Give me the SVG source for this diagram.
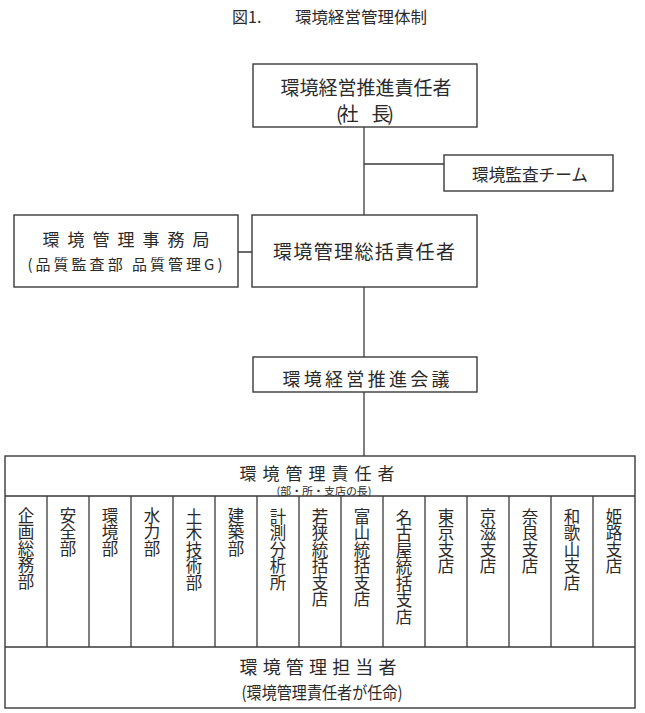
<svg xmlns="http://www.w3.org/2000/svg" width="645" height="713" viewBox="0 0 645 713">
<style>
text{font-family:"Noto Sans CJK JP","Noto Sans CJK SC",sans-serif;fill:#2a2a2a;dominant-baseline:central}
.c{text-anchor:middle}
.box{fill:#fff;stroke:#3a3a3a;stroke-width:1.4}
.ln{fill:none;stroke:#3a3a3a;stroke-width:1.3}
.v{writing-mode:vertical-rl;font-size:16.5px;dominant-baseline:auto}
</style>
<rect width="645" height="713" fill="#fff"/>
<g id="title">
<text x="232" y="15.5" font-size="16">図1.</text>
<text x="295" y="15.5" font-size="16" textLength="132" lengthAdjust="spacingAndGlyphs">環境経営管理体制</text>
</g>
<g id="connectors">
<path class="ln" d="M364 127V215M364 287V357M364 392V456M364 164H444M238 252H252"/>
</g>
<g id="president">
<rect class="box" x="253" y="64" width="224" height="63"/>
<text class="c" x="366" y="86" font-size="19" textLength="171" lengthAdjust="spacingAndGlyphs">環境経営推進責任者</text>
<text class="c" x="365" y="112" font-size="19" textLength="58" lengthAdjust="spacing">(社　長)</text>
</g>
<g id="audit">
<rect class="box" x="444" y="155" width="169" height="36"/>
<text class="c" x="530" y="173" font-size="17" textLength="116" lengthAdjust="spacingAndGlyphs">環境監査チーム</text>
</g>
<g id="secretariat">
<rect class="box" x="14" y="215" width="224" height="72"/>
<text class="c" x="126" y="238" font-size="17" textLength="167" lengthAdjust="spacing">環境管理事務局</text>
<text class="c" x="125" y="263" font-size="15" textLength="195" lengthAdjust="spacing">(品質監査部 品質管理G)</text>
</g>
<g id="general">
<rect class="box" x="252" y="215" width="225" height="72"/>
<text class="c" x="364" y="250" font-size="19" textLength="182" lengthAdjust="spacing">環境管理総括責任者</text>
</g>
<g id="conference">
<rect class="box" x="253" y="357" width="224" height="35"/>
<text class="c" x="366" y="378" font-size="18" textLength="167" lengthAdjust="spacing">環境経営推進会議</text>
</g>
<g id="managers">
<rect class="box" x="5" y="456" width="630" height="252"/>
<path class="ln" d="M5 496H635M5 647H635M47 496V647M89 496V647M131 496V647M173 496V647M215 496V647M257 496V647M299 496V647M341 496V647M383 496V647M425 496V647M467 496V647M509 496V647M551 496V647M593 496V647"/>
<text class="c" x="317" y="472" font-size="17" textLength="155" lengthAdjust="spacing">環境管理責任者</text>
<text class="c" x="324" y="490.5" font-size="10.5" textLength="95" lengthAdjust="spacingAndGlyphs">(部・所・支店の長)</text>
<text class="v" x="26" y="507">企画総務部</text>
<text class="v" x="68" y="507">安全部</text>
<text class="v" x="110" y="507">環境部</text>
<text class="v" x="152" y="507">水力部</text>
<text class="v" x="194" y="508">土木技術部</text>
<text class="v" x="236" y="507">建築部</text>
<text class="v" x="278" y="508">計測分析所</text>
<text class="v" x="320" y="508">若狭統括支店</text>
<text class="v" x="362" y="508">富山統括支店</text>
<text class="v" x="404" y="509">名古屋統括支店</text>
<text class="v" x="446" y="508">東京支店</text>
<text class="v" x="488" y="508">京滋支店</text>
<text class="v" x="530" y="508">奈良支店</text>
<text class="v" x="572" y="508">和歌山支店</text>
<text class="v" x="614" y="508">姫路支店</text>
<text class="c" x="318" y="666" font-size="18" textLength="157" lengthAdjust="spacing">環境管理担当者</text>
<text class="c" x="322" y="691" font-size="17" textLength="161" lengthAdjust="spacingAndGlyphs">(環境管理責任者が任命)</text>
</g>
</svg>
